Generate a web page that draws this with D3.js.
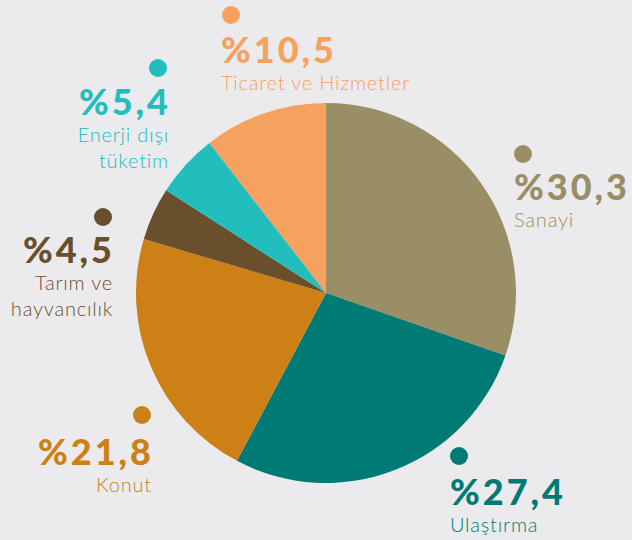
<!DOCTYPE html>
<html>
<head>
<meta charset="utf-8">
<script src="https://cdn.jsdelivr.net/npm/d3@7"></script>
<style>
  body { margin: 0; background: #ebeaec; }
  svg { display: block; font-family: Lato, "Noto Sans", sans-serif; }
</style>
</head>
<body>
<svg id="pie" width="632" height="540"></svg>
<script>
var sectors = ["Sanayi", "Ulaştırma", "Konut", "Tarım ve hayvancılık", "Enerji dışı tüketim", "Ticaret ve Hizmetler"];
var shares  = [30.3, 27.4, 21.8, 4.5, 5.4, 10.5];
var colors  = ["#9a8e66", "#007a74", "#cc8016", "#6a4f2d", "#22bdbd", "#f7a15e"];
var labelLines = [["Sanayi"], ["Ulaştırma"], ["Konut"], ["Tarım ve", "hayvancılık"], ["Enerji dışı", "tüketim"], ["Ticaret ve Hizmetler"]];

// where each label block sits: dot centre, text anchor x, number baseline
var labelPos = [
    {dot: [523, 154], x: 514, y: 200, anchor: "start"},
    {dot: [459, 456], x: 450, y: 505, anchor: "start"},
    {dot: [142, 415], x: 151, y: 465, anchor: "end"},
    {dot: [103, 217], x: 112, y: 263, anchor: "end"},
    {dot: [158, 68],  x: 168, y: 115, anchor: "end"},
    {dot: [231, 15],  x: 221, y: 63,  anchor: "start"}
];

var data = sectors.map((s, i) => ({name: s, value: shares[i], color: colors[i], lines: labelLines[i], pos: labelPos[i]}));

var svg = d3.select("#pie");
var g = svg.append("g").attr("transform", "translate(326,293)");

var pie = d3.pie().sort(null).value(d => d.value);
var arc = d3.arc().innerRadius(0).outerRadius(190);

g.selectAll("path")
 .data(pie(data))
 .enter()
 .append("path")
 .attr("d", arc)
 .attr("fill", d => d.data.color);

var labels = svg.selectAll(".lbl")
    .data(data)
    .enter()
    .append("g")
    .attr("class", "lbl");

labels.append("circle")
      .attr("cx", d => d.pos.dot[0])
      .attr("cy", d => d.pos.dot[1])
      .attr("r", 9)
      .attr("fill", d => d.color);

// letter-spacing leaves a trailing gap, so shift right-aligned text back
labels.append("text")
      .attr("x", d => d.pos.anchor === "end" ? d.pos.x + 3 : d.pos.x)
      .attr("y", d => d.pos.y)
      .attr("text-anchor", d => d.pos.anchor)
      .attr("fill", d => d.color)
      .style("font-size", "36px")
      .style("font-weight", "900")
      .style("letter-spacing", "3px")
      .text(d => "%" + d3.format(".1f")(d.value).replace(".", ","));

labels.each(function(d) {
    var t = d3.select(this).append("text")
              .attr("text-anchor", d.pos.anchor)
              .attr("fill", d.color)
              .style("font-size", "20px")
              .style("font-weight", "300")
              .style("letter-spacing", "0.8px");
    d.lines.forEach((line, j) => {
        t.append("tspan")
         .attr("x", d.pos.anchor === "end" ? d.pos.x + 1 : d.pos.x)
         .attr("y", d.pos.y + 27 + j * 26)
         .text(line);
    });
});
</script>
</body>
</html>
